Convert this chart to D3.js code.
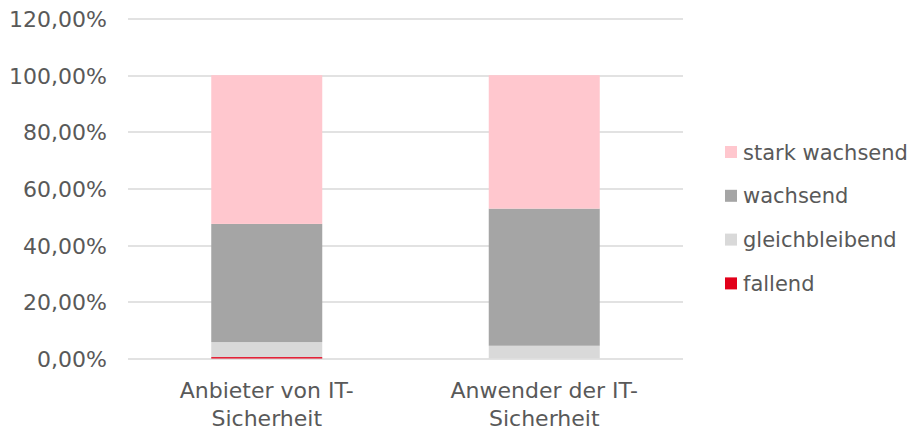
<!DOCTYPE html>
<html>
<head>
<meta charset="utf-8">
<script src="https://cdn.jsdelivr.net/npm/d3@7"></script>
<style>
	body { margin: 0; background: #fff; }
	text { font-family: "DejaVu Sans", sans-serif; fill: #595959; }
</style>
</head>
<body>
<svg id="chart" width="915" height="431"></svg>
<script>
(function() {
	'use strict';

	var categories = ['Anbieter von IT-|Sicherheit', 'Anwender der IT-|Sicherheit'];
	var seriesNames = ['fallend', 'gleichbleibend', 'wachsend', 'stark wachsend'];
	var fallend = [0.5, 0];
	var gleichbleibend = [5.3, 4.5];
	var wachsend = [41.7, 48.4];
	var starkWachsend = [52.5, 47.1];
	var yTicks = [0, 20, 40, 60, 80, 100, 120];
	var colors = ['#e2001a', '#d9d9d9', '#a5a5a5', '#ffc7ce'];

	var seriesValues = [fallend, gleichbleibend, wachsend, starkWachsend];

	var svg = d3.select('#chart');
	var margin = { left: 128, right: 232, top: 18.5, bottom: 72.5 };
	var width = 915 - margin.left - margin.right;
	var height = 431 - margin.top - margin.bottom;

	var g = svg.append('g')
		.attr('transform', 'translate(' + margin.left + ',' + margin.top + ')');

	var x = d3.scaleBand()
		.domain(d3.range(categories.length))
		.range([0, width]);

	var y = d3.scaleLinear()
		.domain([0, 120])
		.range([height, 0]);

	// gridlines
	g.selectAll('.grid')
		.data(yTicks)
		.enter().append('line')
		.attr('x1', 0)
		.attr('x2', width)
		.attr('y1', function(d) { return Math.round(y(d)) + 0.5; })
		.attr('y2', function(d) { return Math.round(y(d)) + 0.5; })
		.style('stroke', '#d9d9d9')
		.style('stroke-width', 1.3);

	var yAxis = g.append('g')
		.call(d3.axisLeft(y)
			.tickValues(yTicks)
			.tickSize(0)
			.tickPadding(21)
			.tickFormat(function(d) { return d.toFixed(2).replace('.', ',') + '%'; }));
	yAxis.select('.domain').remove();
	yAxis.selectAll('text')
		.style('font-family', '"DejaVu Sans", sans-serif')
		.style('font-size', '22px')
		.attr('dy', '0.36em');

	// stack
	var rows = categories.map(function(c, i) {
		var r = { idx: i };
		seriesNames.forEach(function(s, j) { r[s] = seriesValues[j][i]; });
		return r;
	});
	var stacked = d3.stack().keys(seriesNames)(rows);

	var barW = x.bandwidth() * 0.4;

	g.selectAll('.serie')
		.data(stacked)
		.enter().append('g')
		.attr('class', 'serie')
		.style('fill', function(d, i) { return colors[i]; })
		.selectAll('rect')
		.data(function(d) { return d; })
		.enter().append('rect')
		.attr('x', function(d) { return x(d.data.idx) + (x.bandwidth() - barW) / 2; })
		.attr('width', barW)
		.attr('y', function(d) { return y(d[1]); })
		.attr('height', function(d) { return y(d[0]) - y(d[1]); });

	// category labels
	var xl = g.selectAll('.xlabel')
		.data(categories)
		.enter().append('text')
		.attr('class', 'xlabel')
		.attr('text-anchor', 'middle')
		.style('font-size', '22px')
		.attr('transform', function(d, i) {
			return 'translate(' + (x(i) + x.bandwidth() / 2) + ',' + (height + 39) + ')';
		});
	xl.each(function(d) {
		var t = d3.select(this);
		d.split('|').forEach(function(line, k) {
			t.append('tspan')
				.attr('x', 0)
				.attr('y', k * 28)
				.text(line);
		});
	});

	// legend
	var legendOrder = seriesNames.slice().reverse();
	var legend = svg.append('g')
		.attr('transform', 'translate(725,152)');
	var item = legend.selectAll('.item')
		.data(legendOrder)
		.enter().append('g')
		.attr('transform', function(d, i) { return 'translate(0,' + (i * 43.8) + ')'; });
	item.append('rect')
		.attr('x', 0)
		.attr('y', -6)
		.attr('width', 12)
		.attr('height', 12)
		.style('fill', function(d) { return colors[seriesNames.indexOf(d)]; });
	item.append('text')
		.attr('x', 18)
		.attr('dy', '0.36em')
		.style('font-size', '21px')
		.text(function(d) { return d; });
})();
</script>
</body>
</html>
